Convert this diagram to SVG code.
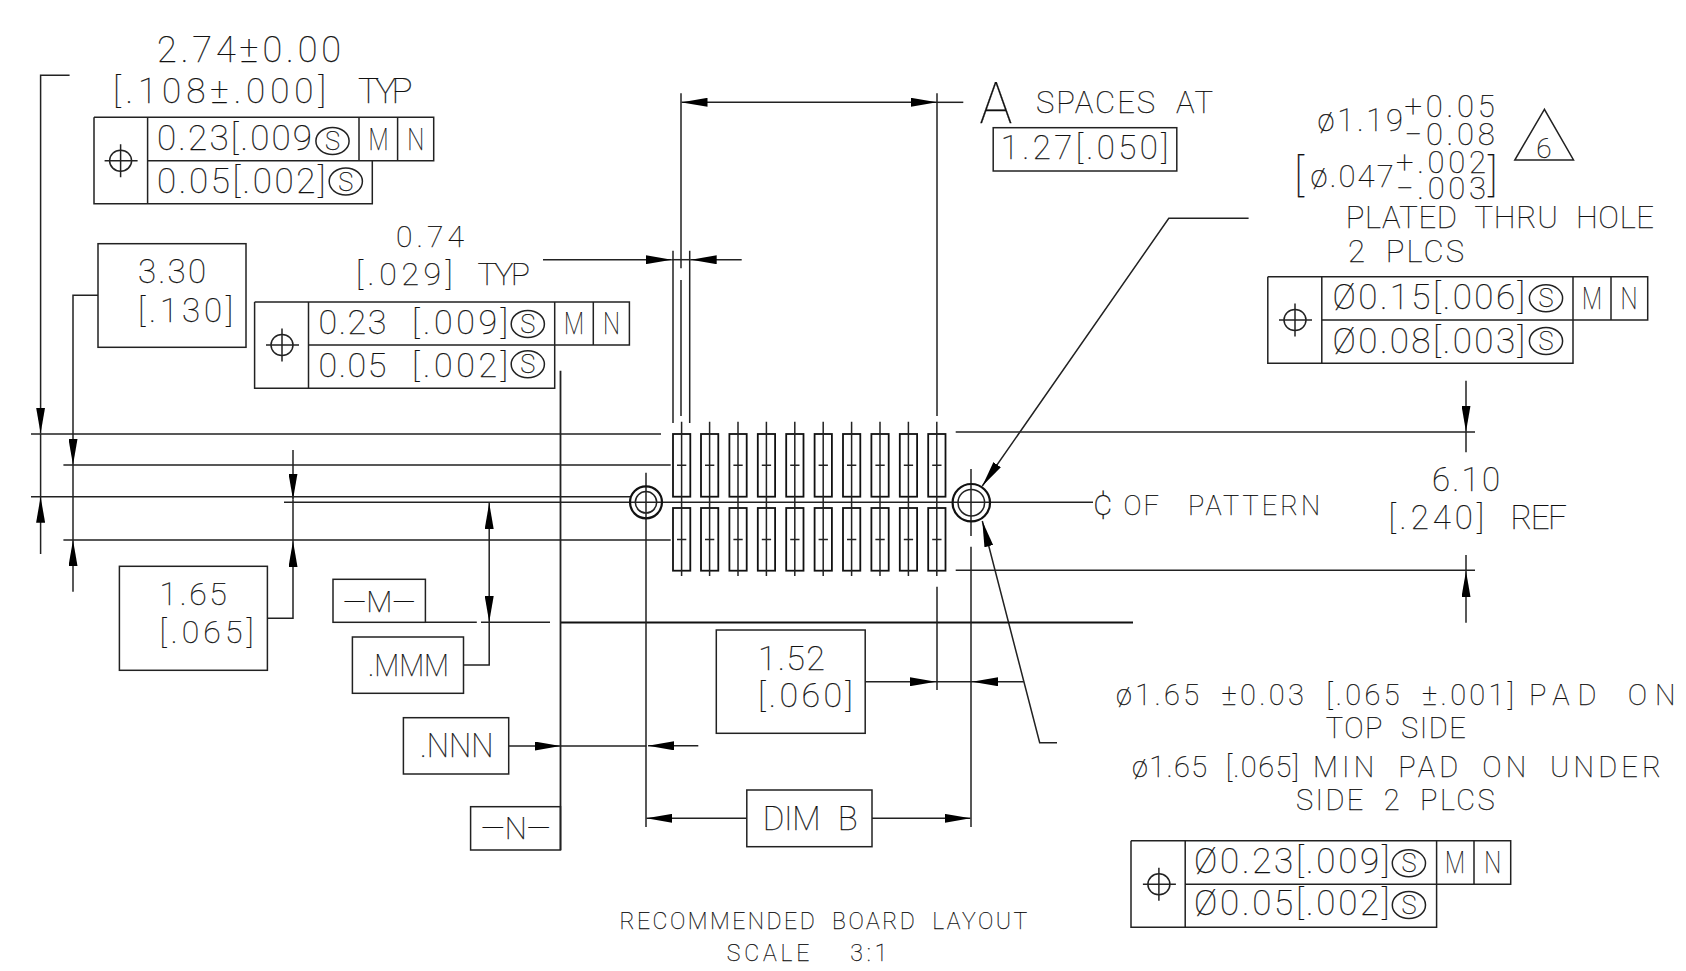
<svg xmlns="http://www.w3.org/2000/svg" width="1686" height="971" viewBox="0 0 1686 971">
<style>
text{font-family:"Roboto","Liberation Sans",sans-serif;font-weight:100;fill:#111;stroke:#111;stroke-width:.25;white-space:pre;word-spacing:.3em}
.b{fill:none;stroke:#222;stroke-width:1.5}
.l{fill:none;stroke:#222;stroke-width:1.5}
.k{fill:none;stroke:#111;stroke-width:2.2}
.a{fill:none;stroke:#222;stroke-width:1.5;marker-end:url(#ah)}
.d{fill:none;stroke:#222;stroke-width:1.5;marker-end:url(#ah);marker-start:url(#ah)}
.m{text-anchor:middle}
</style>
<defs>
<marker id="ah" viewBox="0 0 26 9" refX="26" refY="4.5" markerWidth="26" markerHeight="9" markerUnits="userSpaceOnUse" orient="auto-start-reverse"><path d="M0 0L26 4.5L0 9Z" fill="#000"/></marker>
<g id="pos"><ellipse cx="0" cy="0" rx="11" ry="10.5" class="b"/><path d="M-16 0H17M0-16.500V16.500" class="b"/></g>
<g id="col"><rect x="0" y="434" width="17.300" height="62.700" class="k" style="stroke-width:1.800"/><rect x="0" y="508" width="17.300" height="62.700" class="k" style="stroke-width:1.800"/><path d="M8.600 421.700V576M4 465.300H13.300M4 539.500H13.300" class="l"/></g>
</defs>
<g id="connectors">
<path class="a" d="M69.600 75.300H40.600V433.500"/><path class="l" d="M40.600 433.500V496.700"/><path class="a" d="M40.600 554V496.700"/>
<path class="a" d="M98 295.300H73V465"/><path class="l" d="M73 465V540"/><path class="a" d="M73 591.700V540"/>
<path class="a" d="M293 450V499.500"/><path class="l" d="M293 499.500V541"/><path class="a" d="M267.400 618.300H293V541"/>
<path class="d" d="M489.200 503V622"/><path class="l" d="M463.500 665H489.200V622"/>
<path class="a" d="M508.700 746H560.500"/><path class="l" d="M560.500 746H646.400"/><path class="a" d="M698.300 745.800H648"/>
<path class="a" d="M746.800 818.300H646.400"/><path class="a" d="M872 818.300H970.500"/>
<path class="a" d="M865.200 681.700H936"/><path class="l" d="M936 681.700H972"/><path class="a" d="M1023.800 681.700H972"/>
<path class="d" d="M681.500 102.300H937"/><path class="l" d="M937 102.300H963.300"/>
<path class="a" d="M543 259.700H671.700"/><path class="l" d="M671.700 259.700H690.700"/><path class="a" d="M741.700 259.700H690.700"/>
<path class="a" d="M1466 380.700V431.700"/><path class="l" d="M1466 431.700V452.300"/><path class="a" d="M1466 622.700V571"/><path class="l" d="M1466 555V571"/>
<path class="a" d="M1248.600 218.300H1168.800L982.300 486"/>
<path class="a" d="M1057 742.700H1039.700L982.300 521"/>
<path class="l" d="M31 434H661M63.400 465H670.700M31 496.700H630M284 502.300H1093M63.400 540H670.700M955.700 432H1475M955.700 570.300H1475M425.400 622.300H476.800M481 622.300H550"/>
<path class="k" d="M560.500 622.500H1133"/>
<path class="l" style="stroke-width:1.800" d="M560.500 370.700V850"/>
<path class="l" d="M646 472.700V827M971 469V536M971 546.700V827M673 250.700V423M689.700 250.700V423M681 93.300V268.300M681 280V416M937 93.300V416M937 586.700V690"/>
</g>
<g id="pads">
<use href="#col" x="673"/><use href="#col" x="701"/><use href="#col" x="729.400"/><use href="#col" x="757.800"/><use href="#col" x="786.200"/><use href="#col" x="814.600"/><use href="#col" x="843"/><use href="#col" x="871.400"/><use href="#col" x="899.800"/><use href="#col" x="928.200"/>
</g>
<g id="hole-left"><circle cx="646" cy="502.300" r="16" class="k"/><circle cx="646" cy="502.300" r="10.700" class="l"/></g>
<g id="hole-right"><circle cx="971.300" cy="502.700" r="18.700" class="k"/><circle cx="971.300" cy="502.700" r="13.300" class="l"/></g>
<g id="dim-274">
<text x="157" y="61.700" font-size="36" textLength="184">2.74±0.00</text>
<text y="103.300" font-size="35"><tspan x="113" textLength="213">[.108±.000]</tspan> <tspan x="358" textLength="54.500">TYP</tspan></text>
</g>
<g id="fcf-1">
<path class="b" d="M94 117.300H433.700V160.700H147.600M94 117.300V203.700H372.300V160.700M147.600 117.300V203.700M359 117.300V160.700M397.600 117.300V160.700"/>
<use href="#pos" x="120.600" y="160.700"/>
<text x="157" y="150" font-size="35" textLength="155">0.23[.009</text>
<ellipse class="b" cx="332.500" cy="141" rx="16.600" ry="13.500"/><text class="m" x="332.500" y="150" font-size="26" textLength="15" lengthAdjust="spacingAndGlyphs">S</text>
<text class="m" x="378.500" y="150" font-size="32" textLength="20" lengthAdjust="spacingAndGlyphs">M</text><text class="m" x="415.800" y="150" font-size="32" textLength="17" lengthAdjust="spacingAndGlyphs">N</text>
<text x="157" y="192.700" font-size="35" textLength="168.500">0.05[.002]</text>
<ellipse class="b" cx="345.800" cy="181.500" rx="16.600" ry="13.500"/><text class="m" x="345.800" y="190.500" font-size="26" textLength="15" lengthAdjust="spacingAndGlyphs">S</text>
</g>
<g id="box-330">
<rect class="b" x="98" y="243.700" width="148" height="103.600"/>
<text x="138" y="283.300" font-size="33" textLength="68">3.30</text>
<text x="138" y="321.700" font-size="33" textLength="95">[.130]</text>
</g>
<g id="dim-074">
<text x="396" y="246.700" font-size="30" textLength="68">0.74</text>
<text y="285" font-size="32"><tspan x="356" textLength="96.700">[.029]</tspan> <tspan x="477.500" textLength="52.500">TYP</tspan></text>
</g>
<g id="fcf-2">
<path class="b" d="M254.600 302H629.400V345H308.500M254.600 302V388.300H554.700V345M308.500 302V388.300M554.700 302V345M593.300 302V345"/>
<use href="#pos" x="282" y="345"/>
<text y="334.300" font-size="34"><tspan x="318.400" textLength="68">0.23</tspan> <tspan x="412" textLength="96">[.009]</tspan></text>
<ellipse class="b" cx="527.800" cy="324" rx="16.600" ry="13.500"/><text class="m" x="527.800" y="333" font-size="26" textLength="15" lengthAdjust="spacingAndGlyphs">S</text>
<text class="m" x="574" y="334.300" font-size="32" textLength="20" lengthAdjust="spacingAndGlyphs">M</text><text class="m" x="611.500" y="334.300" font-size="32" textLength="17" lengthAdjust="spacingAndGlyphs">N</text>
<text y="376.700" font-size="34"><tspan x="318.400" textLength="68">0.05</tspan> <tspan x="412" textLength="96">[.002]</tspan></text>
<ellipse class="b" cx="527.800" cy="364.300" rx="16.600" ry="13.500"/><text class="m" x="527.800" y="373.300" font-size="26" textLength="15" lengthAdjust="spacingAndGlyphs">S</text>
</g>
<g id="box-165">
<rect class="b" x="119.400" y="566.300" width="148" height="104"/>
<text x="159.600" y="605.300" font-size="32" textLength="67.200">1.65</text>
<text x="159.600" y="643.300" font-size="32" textLength="94">[.065]</text>
</g>
<g id="box-m">
<rect class="b" x="333" y="579.300" width="92.400" height="43"/>
<text x="343" y="612.300" font-size="30" textLength="72.400" lengthAdjust="spacingAndGlyphs">—M—</text>
</g>
<g id="box-mmm">
<rect class="b" x="352.400" y="637" width="111.100" height="56.300"/>
<text x="368" y="676" font-size="32" textLength="81" lengthAdjust="spacingAndGlyphs">.MMM</text>
</g>
<g id="box-nnn">
<rect class="b" x="403.400" y="717.700" width="105.300" height="56.300"/>
<text x="420" y="757.300" font-size="33" textLength="73.400" lengthAdjust="spacingAndGlyphs">.NNN</text>
</g>
<g id="box-n">
<rect class="b" x="470.600" y="806.700" width="89.900" height="43.300"/>
<text x="481" y="839.300" font-size="31" textLength="69.600" lengthAdjust="spacingAndGlyphs">—N—</text>
</g>
<g id="box-152">
<rect class="b" x="716.300" y="630" width="148.900" height="103.300"/>
<text x="757.900" y="670" font-size="34" textLength="67">1.52</text>
<text x="758" y="706.700" font-size="34" textLength="94.800">[.060]</text>
</g>
<g id="box-dim-b">
<rect class="b" x="746.800" y="790" width="125.200" height="56.700"/>
<text x="762.700" y="830" font-size="33" textLength="94.900">DIM B</text>
</g>
<g id="spaces">
<text x="979.600" y="122.700" font-size="57" textLength="32.800" lengthAdjust="spacingAndGlyphs">A</text>
<text x="1035.900" y="113.300" font-size="31" textLength="177.100">SPACES AT</text>
<rect class="b" x="993.200" y="127.700" width="183.600" height="43.300"/>
<text x="1000.700" y="159" font-size="33" textLength="167.600">1.27[.050]</text>
</g>
<g id="hole-note">
<text x="1317.600" y="130.700" font-size="31" textLength="85.400">ø1.19</text>
<text x="1404.500" y="116.700" font-size="31" textLength="90.100">+0.05</text>
<text x="1404.500" y="145" font-size="31" textLength="90.100">−0.08</text>
<path class="l" d="M1544.400 109.300L1514.800 160H1573.500Z"/>
<text class="m" x="1544" y="158.300" font-size="28">6</text>
<text y="186.700" font-size="31"><tspan x="1294" y="190" font-size="45">[</tspan><tspan x="1310.600" y="186.700" textLength="83.100">ø.047</tspan></text>
<text x="1396" y="172.700" font-size="31" textLength="90">+.002</text>
<text x="1396" y="199.300" font-size="31" textLength="90">−.003</text>
<text x="1488" y="190" font-size="45">]</text>
<text x="1345.800" y="227.700" font-size="31" textLength="308.200">PLATED THRU HOLE</text>
<text x="1348" y="262.300" font-size="31" textLength="116">2 PLCS</text>
</g>
<g id="fcf-3">
<path class="b" d="M1267.800 276.700H1647.700V320H1321.800M1267.800 276.700V363.300H1573V320M1321.800 276.700V363.300M1573 276.700V320M1611 276.700V320"/>
<use href="#pos" x="1295" y="320"/>
<text x="1332.600" y="309.300" font-size="35" textLength="192.400">Ø0.15[.006]</text>
<ellipse class="b" cx="1546" cy="298.300" rx="16.600" ry="13.500"/><text class="m" x="1546" y="307.300" font-size="26" textLength="15" lengthAdjust="spacingAndGlyphs">S</text>
<text class="m" x="1592" y="309.300" font-size="32" textLength="20" lengthAdjust="spacingAndGlyphs">M</text><text class="m" x="1628.900" y="309.300" font-size="32" textLength="17" lengthAdjust="spacingAndGlyphs">N</text>
<text x="1332.600" y="352.700" font-size="35" textLength="192.400">Ø0.08[.003]</text>
<ellipse class="b" cx="1546" cy="341" rx="16.600" ry="13.500"/><text class="m" x="1546" y="350" font-size="26" textLength="15" lengthAdjust="spacingAndGlyphs">S</text>
</g>
<g id="centerline-label">
<text y="515" font-size="27"><tspan x="1093" font-size="36">¢</tspan> <tspan x="1123.500" textLength="35.500">OF</tspan> <tspan x="1188" textLength="132">PATTERN</tspan></text>
</g>
<g id="dim-610">
<text x="1432" y="491" font-size="33" textLength="68">6.10</text>
<text y="529.300" font-size="33"><tspan x="1388.500" textLength="95.500">[.240]</tspan> <tspan x="1510.500" textLength="56.500">REF</tspan></text>
</g>
<g id="pad-note">
<text y="705" font-size="29"><tspan x="1116" textLength="398">ø1.65 ±0.03 [.065 ±.001]</tspan> <tspan x="1529" textLength="146.500">PAD ON</tspan></text>
<text x="1325.700" y="738.300" font-size="29" textLength="140">TOP SIDE</text>
<text y="776.700" font-size="29"><tspan x="1131.900" textLength="167">ø1.65 [.065]</tspan> <tspan x="1313" textLength="348">MIN PAD ON UNDER</tspan></text>
<text x="1296" y="810" font-size="29" textLength="198.700">SIDE 2 PLCS</text>
</g>
<g id="fcf-4">
<path class="b" d="M1131 840.700H1510.700V884.300H1185.200M1131 840.700V927.300H1436.600V884.300M1185.200 840.700V927.300M1436.600 840.700V884.300M1474 840.700V884.300"/>
<use href="#pos" x="1158.900" y="884.300"/>
<text x="1194" y="873.300" font-size="35" textLength="195.500">Ø0.23[.009]</text>
<ellipse class="b" cx="1408.900" cy="863.300" rx="16.600" ry="13.500"/><text class="m" x="1408.900" y="872.300" font-size="26" textLength="15" lengthAdjust="spacingAndGlyphs">S</text>
<text class="m" x="1455" y="873.300" font-size="32" textLength="20" lengthAdjust="spacingAndGlyphs">M</text><text class="m" x="1492.700" y="873.300" font-size="32" textLength="17" lengthAdjust="spacingAndGlyphs">N</text>
<text x="1194" y="915" font-size="35" textLength="195.500">Ø0.05[.002]</text>
<ellipse class="b" cx="1408.900" cy="905" rx="16.600" ry="13.500"/><text class="m" x="1408.900" y="914" font-size="26" textLength="15" lengthAdjust="spacingAndGlyphs">S</text>
</g>
<g id="title">
<text x="619.400" y="929.300" font-size="23" textLength="407.900">RECOMMENDED BOARD LAYOUT</text>
<text x="726.700" y="960.700" font-size="23" textLength="160.700" style="word-spacing:1.200em">SCALE 3:1</text>
</g>
</svg>
